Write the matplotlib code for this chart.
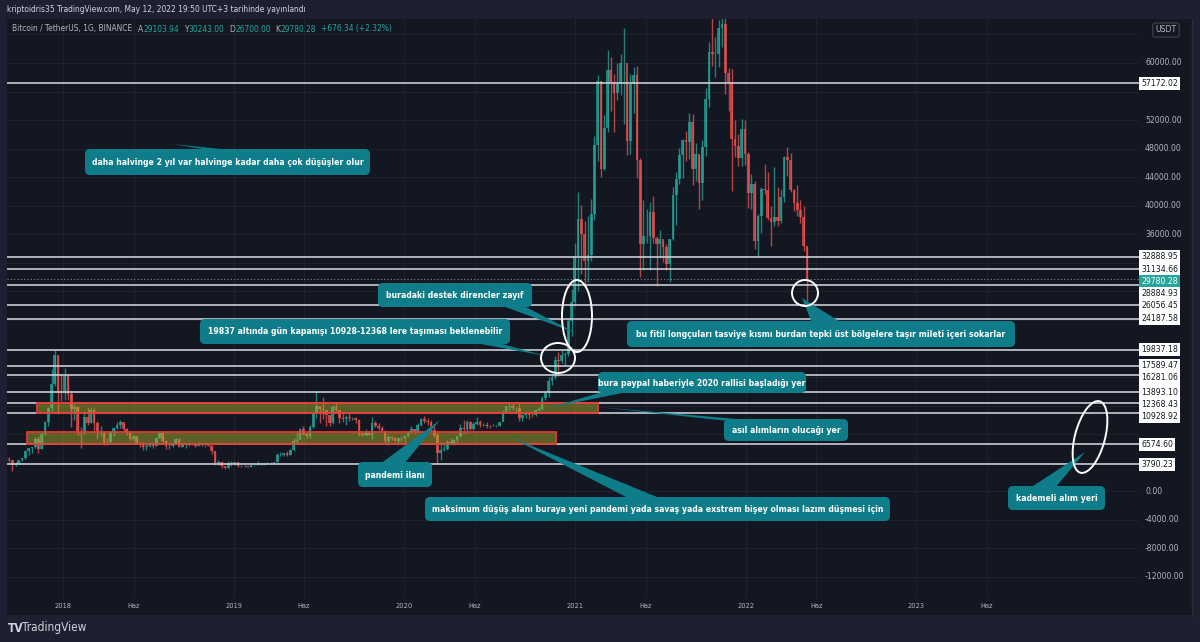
import numpy as np
import pandas as pd
import matplotlib
matplotlib.use("Agg")
import matplotlib.pyplot as plt
import matplotlib.dates as mdates
from matplotlib import font_manager as fm
from matplotlib.patches import FancyBboxPatch, Polygon, Ellipse, Rectangle
from matplotlib.lines import Line2D
from matplotlib.transforms import Affine2D

# weekly BTC/USDT candles (Binance), first week starts 2017-08-14
first_open = 4261
close = [
    # 2017
    4086, 4330, 4580, 4320, 3700, 3780, 4370, 4610, 5700, 6000, 6150, 7360, 5950, 7990, 9700, 11600, 15100, 19100, 13900, 13700,
    # 2018
    16150, 13600, 11500, 11750, 8200, 8100, 10350, 9600, 11400, 9550, 8200, 8450, 6950, 6900, 8350, 8800, 9350, 9650, 8700, 8200,
    7350, 7700, 6750, 6450, 6150, 6350, 6750, 6350, 7400, 8200, 7000, 6300, 6400, 6700, 7300, 6250, 6500, 6700, 6600, 6550,
    6300, 6500, 6500, 6450, 6400, 5600, 4000, 4100, 3600, 3250, 4000, 3850, 4050,
    # 2019
    3500, 3550, 3550, 3400, 3650, 3650, 3800, 3850, 3930, 4000, 4000, 4150, 5050, 5050, 5300, 5150, 5750, 7000, 7250, 8700,
    8000, 7700, 9000, 10850, 11900, 11500, 11400, 10750, 9550, 11850, 11350, 10300, 10150, 10400, 10300, 10300, 10000, 8050, 7850, 8300,
    7950, 9550, 9200, 8800, 8500, 7050, 7550, 7500, 7100, 7500, 7400, 7750,
    # 2020
    8200, 8700, 8350, 9350, 10150, 9900, 9650, 8550, 7950, 5350, 5850, 5900, 6900, 6650, 7150, 7700, 8900, 8700, 9650, 8700,
    9450, 9650, 9300, 9300, 9150, 9100, 9200, 9200, 9700, 11050, 11900, 11900, 11650, 11700, 10250, 10700, 11100, 10750, 10650, 11350,
    11500, 13100, 13800, 15500, 16000, 18400, 18200, 19100, 19300, 23800, 26450, 33000,
    # 2021
    38200, 36000, 32250, 33100, 38900, 48550, 57450, 45200, 50950, 59000, 57350, 55800, 57100, 60000, 60000, 49050, 57000, 58250, 46450, 34700,
    35700, 35800, 39100, 35500, 34700, 35300, 34250, 31800, 35400, 41450, 43800, 47100, 49250, 48900, 51750, 45150, 47250, 43200, 48200, 54950,
    61500, 61300, 61300, 64900, 65500, 58600, 57250, 49400, 48350, 46700, 50800, 47300,
    # 2022
    41850, 43100, 35050, 38500, 42400, 42200, 38350, 37700, 38400, 37800, 41250, 46800, 46400, 42150, 40400, 39450, 38450, 34300, 29780.28,
]
high = [
    # 2017
    4485, 4480, 4980, 4750, 4380, 4120, 4400, 4640, 5850, 6100, 6200, 7600, 7700, 8100, 9800, 11800, 17200, 19800, 19000, 16500,
    # 2018
    17250, 16300, 14000, 12200, 11950, 9000, 11200, 11800, 11700, 11700, 9900, 9200, 8500, 7500, 8400, 9000, 9750, 9990, 9500, 8880,
    8500, 7800, 7750, 6900, 6850, 6650, 6800, 6800, 7600, 8500, 8300, 7150, 6600, 6800, 7400, 7420, 6600, 6800, 6700, 6700,
    6700, 6900, 6600, 6550, 6600, 6500, 5600, 4400, 4200, 3600, 4200, 4250, 4100,
    # 2019
    4100, 3700, 3650, 3600, 3700, 3700, 4200, 3900, 3950, 4050, 4050, 4150, 5300, 5450, 5400, 5650, 5900, 7400, 8350, 8800,
    9100, 8200, 9350, 11100, 13970, 12000, 13200, 11100, 10700, 12100, 12300, 11450, 10950, 10650, 10900, 10450, 10350, 10100, 8500, 8700,
    8400, 10350, 9900, 9500, 9100, 8600, 7850, 7750, 7650, 7500, 7650, 7800,
    # 2020
    8450, 9200, 8750, 9600, 10200, 10500, 10250, 9950, 9200, 8200, 6900, 6950, 7200, 7450, 7300, 7800, 9450, 10000, 9950, 9850,
    9750, 10450, 9950, 9600, 9750, 9300, 9450, 9300, 9750, 11450, 12000, 12450, 12470, 11800, 12480, 10800, 11200, 11000, 10950, 11450,
    11750, 13350, 14100, 15950, 16500, 18900, 19500, 19900, 19450, 24300, 28400, 34800,
    # 2021
    41950, 40100, 37850, 38500, 40950, 49700, 58350, 57500, 52650, 61800, 60850, 58400, 60000, 61250, 64850, 57500, 58450, 59500, 59600, 46650,
    40850, 39500, 40500, 41350, 35800, 36650, 35100, 34700, 35400, 42600, 44700, 48150, 49350, 50500, 52950, 52900, 48850, 47150, 49200, 56550,
    62950, 67000, 63700, 66000, 69000, 66300, 59250, 59100, 51950, 50000, 52100, 52000,
    # 2022
    47500, 44450, 43500, 38900, 42650, 45850, 44750, 40000, 45400, 42600, 42350, 47000, 48200, 47450, 42400, 42950, 40800, 40000, 34250,
]
low = [
    # 2017
    3850, 3950, 4250, 4100, 2817, 3500, 3800, 4200, 4570, 5100, 5400, 6100, 5325, 5900, 7900, 9100, 11300, 14700, 10800, 12700,
    # 2018
    12750, 12800, 9035, 10000, 7900, 6000, 8000, 9300, 9500, 8300, 7300, 7800, 6500, 6450, 6600, 7800, 8700, 8900, 8350, 7900,
    7250, 7050, 6650, 6250, 5750, 5800, 6250, 6100, 6300, 7400, 6900, 5900, 5880, 6200, 6650, 6150, 6200, 6100, 6400, 6450,
    6150, 6400, 6350, 6250, 6300, 5200, 3650, 3700, 3300, 3150, 3250, 3550, 3650,
    # 2019
    3450, 3450, 3450, 3350, 3350, 3550, 3650, 3700, 3700, 3800, 3900, 3900, 4100, 4950, 5000, 5000, 5050, 5700, 6600, 7500,
    7900, 7450, 7500, 8900, 10300, 9600, 10100, 9100, 9100, 9400, 11200, 9500, 9750, 9300, 9850, 9950, 9600, 7700, 7750, 7800,
    7900, 7300, 8950, 8650, 8400, 6800, 6500, 7150, 7000, 6450, 7100, 6850,
    # 2020
    7600, 8100, 8200, 8250, 9100, 9600, 9300, 8450, 7600, 3782, 4400, 5650, 5850, 6600, 6450, 6800, 7650, 8100, 8200, 8600,
    8650, 9300, 9000, 9200, 8850, 8900, 9100, 9000, 9100, 9800, 11000, 11300, 11350, 11100, 9900, 9900, 10200, 10150, 10350, 10550,
    11200, 11400, 12800, 13200, 14850, 15800, 16200, 18000, 17650, 19000, 21800, 26000,
    # 2021
    28100, 30400, 28850, 29250, 32300, 37950, 46200, 44000, 45000, 50300, 53300, 50400, 54750, 55500, 51500, 47050, 47200, 53000, 43850, 30000,
    31000, 34800, 31000, 34800, 28800, 32700, 32100, 31050, 29300, 35200, 37300, 43000, 43950, 46300, 46500, 42850, 43400, 39600, 40750, 46900,
    53850, 59550, 58000, 59400, 62300, 55600, 53250, 42000, 46850, 45500, 45550, 45650,
    # 2022
    39650, 39600, 34000, 32950, 36250, 41700, 37950, 34300, 37150, 37150, 37550, 40500, 44200, 41900, 39200, 38550, 37650, 33700, 26700,
]

levels = [57172.02, 32888.95, 31134.66, 28884.93, 26056.45, 24187.58, 19837.18,
          17589.47, 16281.06, 13893.10, 12368.43, 10928.92, 6574.60, 3790.23]
last_price = 29780.28

# boxes drawn on the chart: (start date, end date, low price, high price)
zones = [("2017-11-06", "2021-02-19", 10928.92, 12368.43),
         ("2017-10-16", "2020-11-21", 6574.60, 8300.0)]

time_ticks = ["2018-01-01", "2018-06-01", "2019-01-01", "2019-06-01", "2020-01-01", "2020-06-01",
              "2021-01-01", "2021-06-01", "2022-01-01", "2022-06-01", "2023-01-01", "2023-06-01"]
time_labels = ["2018", "Haz", "2019", "Haz", "2020", "Haz", "2021", "Haz", "2022", "Haz", "2023", "Haz"]
price_ticks = list(range(-12000, 64001, 4000))

BG = "#131722"
FRAME = "#1c2030"
UP, DOWN = "#26a69a", "#ef5350"
CALL = "#0f7d89"
TXT = "#b2b5be"

# pick a narrow face if one is installed
names = {f.name for f in fm.fontManager.ttflist}
cond = [f for f in fm.fontManager.ttflist if f.name == "DejaVu Sans" and "condensed" in str(f.stretch)]
if "Liberation Sans Narrow" in names:
    FK = dict(family=["Liberation Sans Narrow", "DejaVu Sans"])
elif cond:
    FK = dict(family=["DejaVu Sans"], fontstretch="condensed")
else:
    FK = dict(family=["Roboto", "DejaVu Sans"])

W, H = 1200, 642
fig = plt.figure(figsize=(12, 6.42), dpi=100, facecolor=FRAME)
px = Affine2D().scale(1 / W, -1 / H).translate(0, 1) + fig.transFigure
renderer = fig.canvas.get_renderer()


def fit(text, target, weight="normal"):
    t = fig.text(0, 0, text, fontsize=10, fontweight=weight, **FK)
    w = t.get_window_extent(renderer).width
    t.remove()
    return 10 * target / w


SZ_CALL = fit("daha halvinge 2 yıl var halvinge kadar daha çok düşüşler olur", 268, "bold")
SZ_PRICE = fit("60000.00", 37)
SZ_HEAD = fit("kriptoidris35 TradingView.com, May 12, 2022 19:50 UTC+3 tarihinde yayınlandı", 300)
SZ_TIME = fit("2018", 17)

pane = Rectangle((7, 19), 1185, 596, transform=px, fc=BG, ec="none", zorder=-10)
fig.add_artist(pane)
fig.add_artist(Line2D([1192, 1192], [19, 615], transform=px, color="#2a2e39", lw=1))

ax = fig.add_axes([7 / W, 1 - 598 / H, 1132 / W, 579 / H])
ax.set_facecolor(BG)
for s in ax.spines.values():
    s.set_visible(False)
ax.set_xticks([])
ax.set_yticks([])

t0 = mdates.date2num(pd.Timestamp("2018-01-01"))
ax.set_xlim(t0 - 56 / 0.4672, t0 + 1076 / 0.4672)
ax.set_ylim(-14946, 66159)

# grid
tick_nums = mdates.date2num(pd.to_datetime(time_ticks))
for t in tick_nums:
    ax.axvline(t, color="#1e222d", lw=0.8, zorder=0)
for p in price_ticks:
    ax.axhline(p, color="#1e222d", lw=0.8, zorder=0)

# candles
close = np.array(close, float)
high = np.array(high, float)
low = np.array(low, float)
opens = np.r_[first_open, close[:-1]]
dates = pd.date_range("2017-08-14", periods=len(close), freq="7D")
xs = mdates.date2num(dates) + 3.5
cols = np.where(close >= opens, UP, DOWN)
ax.vlines(xs, low, high, colors=cols, lw=1.0, alpha=0.75, zorder=2)
ax.bar(xs, close - opens, bottom=opens, width=5.8, color=cols, lw=0, alpha=0.75, zorder=2)

# levels
for lv in levels:
    ax.axhline(lv, color="#c9ccd4", lw=1.2, zorder=3)
ax.axhline(last_price, color="#868993", lw=0.8, ls=(0, (1, 2)), zorder=3)

# zones
for d0, d1, p0, p1 in zones:
    x0, x1 = mdates.date2num(pd.Timestamp(d0)), mdates.date2num(pd.Timestamp(d1))
    ax.add_patch(Rectangle((x0, p0), x1 - x0, p1 - p0, fc="#b5b52a", alpha=0.45, ec="none", zorder=4))
    ax.add_patch(Rectangle((x0, p0), x1 - x0, p1 - p0, fc="none", ec="#e53935", lw=1.3, zorder=4))


def img_y(price):
    return H - ax.transData.transform((0, price))[1]


# level labels (pushed apart like TradingView)
labels = sorted([(lv, False) for lv in levels] + [(last_price, True)], key=lambda t: -t[0])
prev = -100
taken = [30]  # USDT badge
for lv, cur in labels:
    y = max(img_y(lv), prev + 12.2)
    prev = y
    taken.append(y)
    ax.text(1141, y, f"{lv:.2f}", transform=px, color="white" if cur else "#131722",
            fontsize=SZ_PRICE, va="center", ha="left", clip_on=False, zorder=8,
            bbox=dict(boxstyle="square,pad=0.25", fc=UP if cur else "white", ec="none"), **FK)

# price axis tick labels, hidden where a label box sits
for p in price_ticks:
    y = img_y(p)
    if min(abs(y - q) for q in taken) < 11:
        continue
    ax.text(1145, y, f"{p:.2f}", transform=px, color=TXT, fontsize=SZ_PRICE,
            va="center", ha="left", clip_on=False, zorder=7, **FK)

ax.text(1166, 30, "USDT", transform=px, color=TXT, fontsize=SZ_PRICE, va="center", ha="center",
        clip_on=False, zorder=9,
        bbox=dict(boxstyle="round,pad=0.3,rounding_size=0.3", fc=BG, ec="#434651", lw=0.8), **FK)

# time axis labels
for t, lab in zip(tick_nums, time_labels):
    xp = ax.transData.transform((t, 0))[0]
    ax.text(xp, 606, lab, transform=px, color=TXT, fontsize=SZ_TIME, ha="center", va="center",
            clip_on=False, **FK)


def callout(text, box, tip, base):
    x0, y0, x1, y1 = box
    ax.add_patch(Polygon([base[0], tip, base[1]], closed=True, transform=px, fc=CALL, ec="none",
                         clip_on=False, zorder=6))
    ax.add_patch(FancyBboxPatch((x0, y0), x1 - x0, y1 - y0, boxstyle="round,pad=0,rounding_size=5",
                                transform=px, fc=CALL, ec="none", clip_on=False, zorder=6))
    ax.text((x0 + x1) / 2, (y0 + y1) / 2 + 0.5, text, transform=px, color="white", fontsize=SZ_CALL,
            fontweight="bold", ha="center", va="center", clip_on=False, zorder=7, **FK)


callout("daha halvinge 2 yıl var halvinge kadar daha çok düşüşler olur",
        (85, 149, 370, 175), (173, 144), [(215, 151), (240, 151)])
callout("buradaki destek direncler zayıf",
        (378, 283, 532, 307), (576, 333), [(500, 305), (522, 305)])
callout("19837 altında gün kapanışı 10928-12368 lere taşıması beklenebilir",
        (200, 319, 510, 344), (546, 356), [(470, 342), (495, 342)])
callout("bu fitil longçuları tasviye kısmı burdan tepki üst bölgelere taşır mileti içeri sokarlar",
        (627, 321, 1015, 347), (802, 298), [(812, 323), (842, 323)])
callout("bura paypal haberiyle 2020 rallisi başladığı yer",
        (598, 372, 806, 393), (548, 408), [(606, 391), (632, 391)])
callout("asıl alımların olucağı yer",
        (724, 419, 848, 441), (598, 407), [(728, 421), (760, 421)])
callout("pandemi ilanı",
        (358, 462, 432, 487), (440, 420), [(380, 464), (404, 464)])
callout("maksimum düşüş alanı buraya yeni pandemi yada savaş yada exstrem bişey olması lazım düşmesi için",
        (425, 497, 890, 521), (510, 437), [(630, 499), (662, 499)])
callout("kademeli alım yeri",
        (1008, 486, 1105, 510), (1085, 452), [(1030, 488), (1055, 488)])

# hand drawn circles
for (cx, cy), w, h, ang in [((577, 316), 30, 72, 0), ((558, 358), 34, 30, 0),
                            ((805, 293), 26, 26, 0), ((1090, 437), 30, 74, 15)]:
    ax.add_patch(Ellipse((cx, cy), w, h, angle=ang, transform=px, fill=False, ec="white",
                         lw=1.4, clip_on=False, zorder=6))

# header
fig.text(7 / W, 1 - 10 / H, "kriptoidris35 TradingView.com, May 12, 2022 19:50 UTC+3 tarihinde yayınlandı",
         color="#d1d4dc", fontsize=SZ_HEAD, va="center", ha="left", **FK)

pieces = [("Bitcoin / TetherUS, 1G, BINANCE", TXT, 6), ("A", TXT, 0), ("29103.94", UP, 5),
          ("Y", TXT, 0), ("30243.00", UP, 5), ("D", TXT, 0), ("26700.00", UP, 5),
          ("K", TXT, 0), ("29780.28", UP, 5), ("+676.34 (+2.32%)", UP, 0)]
xpos = 12
for s, c, gap in pieces:
    t = fig.text(xpos / W, 1 - 29 / H, s, color=c, fontsize=SZ_HEAD, va="center", ha="left", **FK)
    xpos += t.get_window_extent(renderer).width + gap

# footer logo
fig.text(8 / W, 1 - 628 / H, "TV", color="#d1d4dc", fontsize=8.5, fontweight="bold", va="center", **FK)
fig.text(22 / W, 1 - 628 / H, "TradingView", color="#d1d4dc", fontsize=8.5, va="center", **FK)

fig.savefig("out.png", dpi=100, facecolor=FRAME)
